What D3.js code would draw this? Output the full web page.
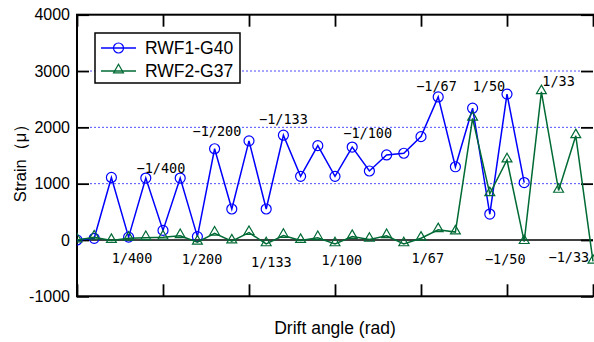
<!DOCTYPE html>
<html><head><meta charset="utf-8">
<script src="https://cdn.jsdelivr.net/npm/d3@7"></script>
<style>body{margin:0;background:#fff;}svg{display:block;}</style>
</head><body>
<svg id="chart" width="594" height="342"></svg>
<script>
// ---- data ----
const steps = d3.range(0, 31); // loading step index along drift history
const rwf1G40 = [0, 30, 1110, 50, 1100, 170, 1100, 60, 1620, 550, 1760, 550, 1860, 1130, 1675, 1130, 1650, 1225, 1510, 1540, 1835, 2540, 1300, 2340, 460, 2590, 1020];
const rwf2G37 = [0, 50, -10, 30, 40, 50, 75, -40, 120, -20, 130, -70, 80, -10, 40, -70, 60, 10, 75, -70, 30, 180, 140, 2160, 820, 1420, -30, 2630, 880, 1850, -380];
const seriesNames = ["RWF1-G40", "RWF2-G37"];
const yTicks = [-1000, 0, 1000, 2000, 3000, 4000];
const xTicks = [0, 5, 10, 15, 20, 25, 30];
const gridValues = [1000, 2000, 3000];
const annotText  = ["\u22121/400", "\u22121/200", "\u22121/133", "\u22121/100", "\u22121/67", "1/50", "1/33",
                    "1/400", "1/200", "1/133", "1/100", "1/67", "\u22121/50", "\u22121/33"];
const annotStep  = [4.88, 8.14, 12.0, 16.9, 20.9, 23.95, 28.0, 3.2, 7.27, 11.3, 15.4, 20.4, 24.9, 28.6];
const annotValue = [1190, 1846, 2060, 1810, 2645, 2645, 2734, -408, -426, -480, -444, -403, -426, -390];

// ---- layout ----
const svg = d3.select("#chart");
const L = 77, R = 593, T = 14.7, B = 296.3;
const x = d3.scaleLinear().domain([0, 30]).range([L, R]);
const y = d3.scaleLinear().domain([-1000, 4000]).range([B, T]);
const blue = "#0000ff", green = "#006a35";

svg.append("defs").append("clipPath").attr("id", "clip")
  .append("rect").attr("x", L).attr("y", T).attr("width", R - L + 1).attr("height", B - T);

// grid
svg.append("g").selectAll("line").data(gridValues).join("line")
  .attr("x1", L + 13).attr("x2", R - 12)
  .attr("y1", d => y(d)).attr("y2", d => y(d))
  .attr("stroke", "#4d4dff").attr("stroke-width", 1).attr("stroke-dasharray", "2,2");

// zero line
svg.append("line").attr("x1", L).attr("x2", R).attr("y1", y(0)).attr("y2", y(0))
  .attr("stroke", "#000").attr("stroke-width", 1.6);

// axes
const axStyle = g => {
  g.selectAll(".domain").remove();
  g.selectAll(".tick line").attr("stroke", "#000").attr("stroke-width", 1.8);
};
svg.append("g").attr("transform", `translate(0,${B})`)
  .call(d3.axisBottom(x).tickValues(xTicks).tickSizeInner(-12).tickSizeOuter(0).tickFormat(""))
  .call(axStyle);
svg.append("g").attr("transform", `translate(0,${T})`)
  .call(d3.axisTop(x).tickValues(xTicks).tickSizeInner(-12).tickSizeOuter(0).tickFormat(""))
  .call(axStyle);
svg.append("g").attr("transform", `translate(${L},0)`)
  .call(d3.axisLeft(y).tickValues(yTicks).tickSizeInner(-12).tickSizeOuter(0).tickPadding(7).tickFormat(d => String(d)))
  .call(axStyle)
  .call(g => g.selectAll("text").attr("font-family", "Liberation Sans, Arial, sans-serif").attr("font-size", 16).attr("fill", "#000").attr("x", -7));
svg.append("g").attr("transform", `translate(${R},0)`)
  .call(d3.axisRight(y).tickValues(yTicks).tickSizeInner(-12).tickSizeOuter(0).tickFormat(""))
  .call(axStyle);

// frame
svg.append("rect").attr("x", L).attr("y", T).attr("width", R - L + 2).attr("height", B - T)
  .attr("fill", "none").attr("stroke", "#000").attr("stroke-width", 2);

// series
const plot = svg.append("g").attr("clip-path", "url(#clip)");
const line = d3.line().x((d, i) => x(steps[i])).y(d => y(d));
const tri = d3.symbol().type(d3.symbolTriangle).size(42);

plot.append("path").datum(rwf1G40).attr("d", line)
  .attr("fill", "none").attr("stroke", blue).attr("stroke-width", 1.5);
plot.append("g").selectAll("circle").data(rwf1G40).join("circle")
  .attr("cx", (d, i) => x(steps[i])).attr("cy", d => y(d)).attr("r", 5)
  .attr("fill", "none").attr("stroke", blue).attr("stroke-width", 1.2);

plot.append("path").datum(rwf2G37).attr("d", line)
  .attr("fill", "none").attr("stroke", green).attr("stroke-width", 1.5);
plot.append("g").selectAll("path").data(rwf2G37).join("path")
  .attr("d", tri)
  .attr("transform", (d, i) => `translate(${x(steps[i])},${y(d) - 1})`)
  .attr("fill", "none").attr("stroke", green).attr("stroke-width", 1.2);

// annotations
svg.append("g").selectAll("text").data(annotText).join("text")
  .attr("x", (d, i) => x(annotStep[i])).attr("y", (d, i) => y(annotValue[i]))
  .attr("text-anchor", "middle")
  .attr("font-family", "DejaVu Sans Mono, monospace").attr("font-size", 13.5)
  .attr("fill", "#000").text(d => d);

// legend
const lg = svg.append("g");
lg.append("rect").attr("x", 95).attr("y", 33).attr("width", 145).attr("height", 50)
  .attr("fill", "#fff").attr("stroke", "#000").attr("stroke-width", 1.5);
const legY = [48, 71], legC = [blue, green];
seriesNames.forEach((name, k) => {
  lg.append("line").attr("x1", 101).attr("x2", 136).attr("y1", legY[k]).attr("y2", legY[k])
    .attr("stroke", legC[k]).attr("stroke-width", 1.5);
  if (k === 0) {
    lg.append("circle").attr("cx", 118.5).attr("cy", legY[k]).attr("r", 5)
      .attr("fill", "none").attr("stroke", blue).attr("stroke-width", 1.2);
  } else {
    lg.append("path").attr("d", tri).attr("transform", `translate(118.5,${legY[k] - 1})`)
      .attr("fill", "none").attr("stroke", green).attr("stroke-width", 1.2);
  }
  lg.append("text").attr("x", 145).attr("y", legY[k] + 6)
    .attr("font-family", "Liberation Sans, Arial, sans-serif").attr("font-size", 17.5)
    .attr("fill", "#000").text(name);
});

// axis titles
svg.append("text").attr("x", 335).attr("y", 334).attr("text-anchor", "middle")
  .attr("font-family", "Liberation Sans, Arial, sans-serif").attr("font-size", 17.5)
  .attr("fill", "#000").text("Drift angle (rad)");
svg.append("text").attr("transform", "translate(26,159) rotate(-90)").attr("text-anchor", "middle")
  .attr("font-family", "Liberation Sans, Arial, sans-serif").attr("font-size", 16.5)
  .attr("fill", "#000").text("Strain\uFF08\u03BC\uFF09");
</script>
</body></html>
